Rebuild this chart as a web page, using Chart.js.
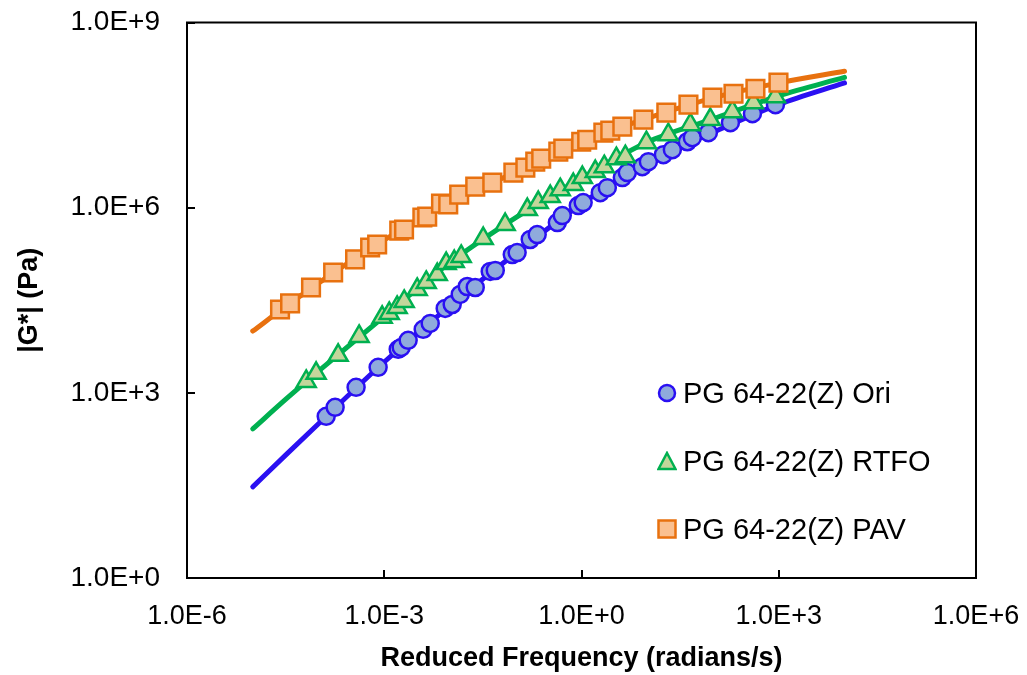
<!DOCTYPE html>
<html><head><meta charset="utf-8">
<script src="https://cdn.jsdelivr.net/npm/chart.js@4/dist/chart.umd.min.js"></script>
<style>
html,body{margin:0;padding:0;background:#fff;}
#wrap{position:relative;width:1027px;height:675px;overflow:hidden;}
.item{position:absolute;left:657px;height:40px;display:flex;align-items:center;white-space:nowrap;font-family:'Liberation Sans',Arial,sans-serif;font-size:29px;color:#000;}
.item svg{margin-right:6px;flex:none;}
</style></head>
<body><div id="wrap"><canvas id="c" width="1027" height="675"></canvas><div id="legend"></div></div>
<script>
const xTickValues = [1e-6, 1e-3, 1, 1e3, 1e6];
const xTickLabels = ['1.0E-6','1.0E-3','1.0E+0','1.0E+3','1.0E+6'];
const yTickValues = [1, 1e3, 1e6, 1e9];
const yTickLabels = ['1.0E+0','1.0E+3','1.0E+6','1.0E+9'];
const seriesNames = ['PG 64-22(Z) Ori','PG 64-22(Z) RTFO','PG 64-22(Z) PAV'];
const xTitle = 'Reduced Frequency (radians/s)';
const yTitle = '|G*| (Pa)';

// measured data (markers)
const oriFreq = [1.31e-4,1.79e-4,3.73e-4,8.07e-4,1.63e-3,1.81e-3,2.31e-3,3.91e-3,5.0e-3,8.45e-3,0.0108,0.0143,0.0183,0.0242,0.0409,0.0488,0.0885,0.105,0.166,0.212,0.429,0.51,0.893,1.06,1.93,2.47,4.18,4.98,8.41,10.4,17.6,24.1,40.7,48.5,85.1,184,398,891];
const oriG = [417,582,1230,2590,5060,5450,7080,10700,13300,23300,27000,39300,52800,50900,92500,96000,174000,187000,305000,367000,574000,745000,1.08e6,1.21e6,1.75e6,2.11e6,3.07e6,3.70e6,4.62e6,5.57e6,7.23e6,8.71e6,1.17e7,1.36e7,1.64e7,2.38e7,3.33e7,4.66e7];

const rtfoFreq = [6.5e-5,9.2e-5,1.99e-4,4.15e-4,9.3e-4,1.19e-3,1.57e-3,2.01e-3,3.17e-3,4.35e-3,6.4e-3,8.75e-3,0.0116,0.0148,0.032,0.069,0.150,0.220,0.335,0.475,0.75,1.03,1.62,2.22,3.39,4.64,9.7,20.9,45.3,91,197,412,891];
const rtfoG = [1530,2070,4050,8200,16700,19300,24200,30300,47300,61400,82600,124000,134000,162000,316000,533000,930000,1.21e6,1.51e6,1.96e6,2.37e6,3.07e6,3.84e6,4.62e6,6.22e6,6.71e6,1.13e7,1.52e7,2.21e7,2.67e7,3.59e7,5.02e7,6.28e7];

const pavFreq = [2.6e-5,3.7e-5,7.7e-5,1.67e-4,3.6e-4,6.1e-4,7.8e-4,1.69e-3,2.0e-3,3.8e-3,4.5e-3,7.3e-3,9.4e-3,0.0138,0.0242,0.044,0.092,0.14,0.198,0.244,0.444,0.528,0.99,1.22,2.15,2.74,4.18,8.73,19.5,42.3,98,205,442,990];
const pavG = [22400,28100,50900,89000,145000,226000,253000,426000,443000,692000,718000,1.16e6,1.13e6,1.63e6,2.19e6,2.55e6,3.70e6,4.46e6,5.57e6,6.22e6,8.09e6,9.04e6,1.17e7,1.26e7,1.64e7,1.77e7,2.05e7,2.67e7,3.46e7,4.66e7,6.05e7,7.01e7,8.45e7,1.06e8];

// fitted master curves (lines)
const fitFreq = [1e-5,3.16e-5,1e-4,1e-3,1e-2,0.1,1,10,100,1000,1e4];
const oriFit  = [30,98,316,3160,25700,182000,1.15e6,5.6e6,1.66e7,4.7e7,1.05e8];
const rtfoFit = [260,780,2240,17400,129000,690000,3.0e6,1.15e7,2.75e7,6.5e7,1.29e8];
const pavFit  = [1.0e4,2.5e4,6.0e4,3.0e5,1.17e6,3.8e6,1.17e7,2.8e7,6.0e7,1.05e8,1.62e8];

const colors = {
  ori:  {line:'#2a10f2', fill:'#8faadc'},
  rtfo: {line:'#00b050', fill:'#c3d69b'},
  pav:  {line:'#e8710f', fill:'#fac090'}
};

const pts = (xs, ys) => xs.map((x,i)=>({x:x, y:ys[i]}));
const FONT = "'Liberation Sans', Arial, sans-serif";

function lineDs(xs, ys, c, order){
  return {data: pts(xs,ys), showLine:true, borderColor:c.line, borderWidth:5, borderCapStyle:'round', borderJoinStyle:'round',
          pointRadius:0, cubicInterpolationMode:'monotone', fill:false, order:order};
}
function markDs(xs, ys, c, style, r, order){
  return {data: pts(xs,ys), showLine:false, pointStyle:style, pointRadius:r, pointBackgroundColor:c.fill,
          pointBorderColor:c.line, pointBorderWidth:2.5, order:order};
}

const framePlugin = {
  id:'frame',
  beforeDatasetsDraw(chart){
    const {ctx, chartArea:a, scales:{x,y}} = chart;
    ctx.save();
    ctx.strokeStyle='#000'; ctx.lineWidth=2;
    ctx.strokeRect(a.left, a.top, a.right-a.left, a.bottom-a.top);
    ctx.beginPath();
    xTickValues.forEach(v=>{const px=Math.round(x.getPixelForValue(v)); ctx.moveTo(px,a.bottom); ctx.lineTo(px,a.bottom-8);});
    yTickValues.forEach(v=>{const py=Math.round(y.getPixelForValue(v)); ctx.moveTo(a.left,py); ctx.lineTo(a.left+8,py);});
    ctx.stroke();
    ctx.restore();
  }
};

new Chart(document.getElementById('c'), {
  type:'scatter',
  data:{datasets:[
    lineDs(fitFreq, oriFit, colors.ori, 6),
    markDs(oriFreq, oriG, colors.ori, 'circle', 8.5, 5),
    lineDs(fitFreq, rtfoFit, colors.rtfo, 4),
    markDs(rtfoFreq, rtfoG, colors.rtfo, 'triangle', 11, 3),
    lineDs(fitFreq, pavFit, colors.pav, 2),
    markDs(pavFreq, pavG, colors.pav, 'rect', 12.5, 1)
  ]},
  options:{
    responsive:false, animation:false, devicePixelRatio:1,
    layout:{padding:{top:22.5, right:51, left:0, bottom:0}},
    plugins:{legend:{display:false}, tooltip:{enabled:false}},
    scales:{
      x:{type:'logarithmic', position:'bottom', min:1e-6, max:1e6,
        grid:{display:false}, border:{display:false},
        afterBuildTicks:s=>{s.ticks = xTickValues.map(v=>({value:v}));},
        afterFit:s=>{s.height = 97; s.paddingLeft = 0; s.paddingRight = 0;},
        ticks:{autoSkip:false, maxRotation:0, padding:14, color:'#000', font:{family:FONT, size:27},
          callback:(v,i)=>xTickLabels[i]},
        title:{display:true, text:xTitle, color:'#000', font:{family:FONT, size:27, weight:'bold'}, padding:{top:0, bottom:0}}
      },
      y:{type:'logarithmic', position:'left', min:1, max:1e9,
        grid:{display:false}, border:{display:false},
        afterBuildTicks:s=>{s.ticks = yTickValues.map(v=>({value:v}));},
        afterFit:s=>{s.width = 187; s.paddingTop = 0; s.paddingBottom = 0;},
        ticks:{autoSkip:false, padding:19, color:'#000', font:{family:FONT, size:28},
          callback:(v,i)=>yTickLabels[i]},
        title:{display:true, text:yTitle, color:'#000', font:{family:FONT, size:27, weight:'bold'}, padding:{top:13, bottom:0}}
      }
    }
  },
  plugins:[framePlugin]
});

// legend (HTML, inside plot area)
const legendMarkers = [
  `<svg width="20" height="20"><circle cx="10" cy="10" r="8" fill="${colors.ori.fill}" stroke="${colors.ori.line}" stroke-width="2.5"/></svg>`,
  `<svg width="20" height="20"><polygon points="10,2 18.5,18 1.5,18" fill="${colors.rtfo.fill}" stroke="${colors.rtfo.line}" stroke-width="2.5"/></svg>`,
  `<svg width="20" height="20"><rect x="1.5" y="1.5" width="17" height="17" fill="${colors.pav.fill}" stroke="${colors.pav.line}" stroke-width="2.5"/></svg>`
];
const legendY = [393, 461, 529];
const lg = document.getElementById('legend');
seriesNames.forEach((n,i)=>{
  const d = document.createElement('div');
  d.className='item';
  d.style.top = (legendY[i]-20)+'px';
  d.innerHTML = legendMarkers[i] + '<span>'+n+'</span>';
  lg.appendChild(d);
});
</script>
</body></html>
